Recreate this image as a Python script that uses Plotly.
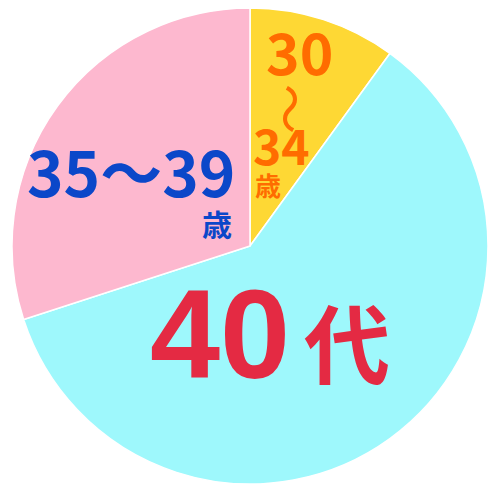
import plotly.graph_objects as go

# age groups, clockwise from 12 o'clock
labels = ["30～34歳", "40代", "35～39歳"]
values = [10, 60, 30]
slice_colors = ["#FED834", "#9EF8FC", "#FDB8CF"]

# the page body keeps an 8px margin, so the figure is a bit smaller
OFF = 8
W, H = 500 - OFF, 492 - OFF

def px(x, y):
    # page pixel -> paper coords
    return (x - OFF) / W, 1 - (y - OFF) / H

fig = go.Figure(go.Pie(
    labels=labels,
    values=values,
    sort=False,
    direction="clockwise",
    rotation=0,
    marker=dict(colors=slice_colors, line=dict(color="white", width=1.5)),
    textinfo="none",
    hoverinfo="label+percent",
    showlegend=False,
    domain=dict(x=[0, 484 / W], y=[(H - 476) / H, 1]),
))

cjk = "Noto Sans CJK JP, sans-serif"
orange = "#FF6C00"
blue = "#0B47C9"
red = "#E42A43"

# (text, page x, page y, size, color, family, angle, bold)
pieces = [
    ("30", 299, 50, 57, orange, cjk, 0, True),
    ("～", 293, 109, 50, orange, cjk, 90, False),
    ("34", 281, 144, 48, orange, cjk, 0, True),
    ("歳", 268, 184, 26, orange, cjk, 0, True),
    ("35～39", 131, 170, 62, blue, cjk, 0, True),
    ("歳", 217, 223, 30, blue, cjk, 0, True),
    ("40", 220, 334, 126, red, "Liberation Sans, Arial, sans-serif", 0, True),
    ("代", 347, 340, 86, red, cjk, 0, True),
]

for text, x, y, size, color, family, angle, bold in pieces:
    ax, ay = px(x, y)
    fig.add_annotation(
        x=ax, y=ay, xref="paper", yref="paper",
        text="<b>" + text + "</b>" if bold else text, showarrow=False,
        xanchor="center", yanchor="middle", textangle=angle,
        font=dict(size=size, color=color, family=family),
    )

fig.update_layout(
    width=W, height=H,
    margin=dict(l=0, r=0, t=0, b=0),
    paper_bgcolor="white",
    plot_bgcolor="white",
)

fig.write_html("out.html")
